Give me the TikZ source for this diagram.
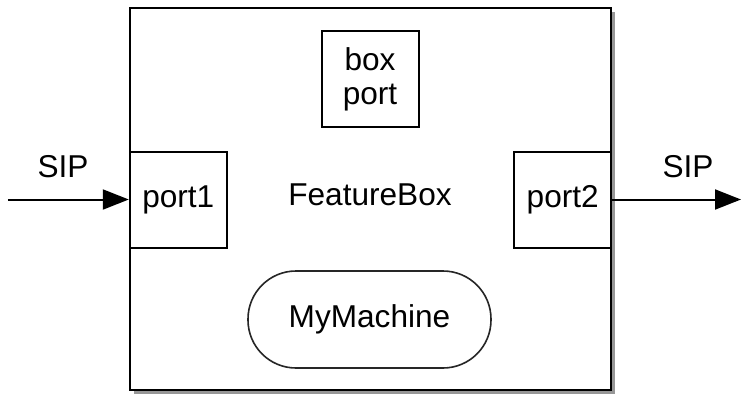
\documentclass[tikz,border=0pt]{standalone}
\usepackage{fontspec}
\setmainfont{Liberation Sans}
\usetikzlibrary{arrows.meta, positioning, shadows}
\definecolor{shadowgrey}{RGB}{140, 140, 140}

\begin{document}
\begin{tikzpicture}[
    x=0.5pt, y=-0.5pt,
    every node/.style={font=\fontsize{15.8}{18}\selectfont},
    featbox/.style={rectangle, draw=black, line width=1.2pt, fill=white, minimum width=240.5pt, minimum height=191pt, drop shadow={shadow xshift=2pt, shadow yshift=-2pt, fill=shadowgrey, opacity=0.9}},
    portbox/.style={rectangle, draw=black, line width=1pt, fill=white, align=center, minimum width=48.5pt, minimum height=48pt, inner sep=0pt},
    machine/.style={rectangle, rounded corners=24pt, draw=black!85, line width=0.8pt, fill=white, minimum width=121.5pt, minimum height=48.5pt},
    flow/.style={-{Triangle[length=13pt, width=10pt]}, line width=1pt}
]
\useasboundingbox (0,0) rectangle (741,397);

\node [featbox] (fbox) at (370.5,199) {};
\node (fname) at (370,195) {FeatureBox};
\node [portbox] (boxport) at (370,79) {box\\[-1pt]port};
\node [portbox, anchor=west] (port1) at (fbox.west |- 0,199.5) {port1};
\node [portbox, anchor=east] (port2) at (fbox.east |- 0,199.5) {port2};
\node [machine] (mymach) at (369.5,319.5) {MyMachine};

\coordinate (sipin) at (8,199.5);
\coordinate (sipout) at (741,199.5);
\node (sipl) at (63,167) {SIP};
\node (sipr) at (688,167) {SIP};

\draw [flow] (sipin) -- (port1.west);
\draw [flow] (port2.east) -- (sipout);

\end{tikzpicture}
\end{document}
